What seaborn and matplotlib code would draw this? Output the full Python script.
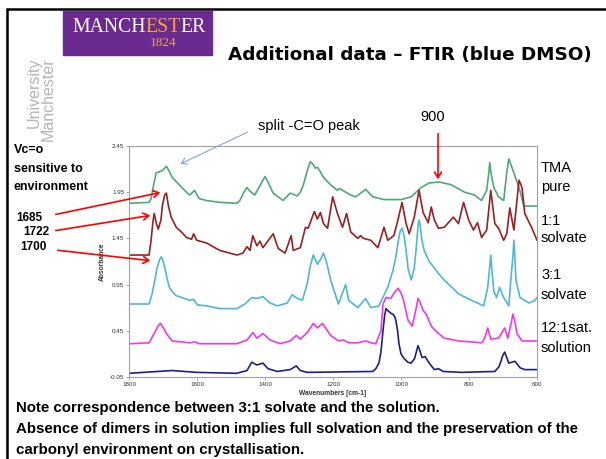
import numpy as np
import pandas as pd
import matplotlib
matplotlib.use("Agg")
import matplotlib.pyplot as plt
import seaborn as sns

# FTIR spectra (wavenumber in cm-1, absorbance)
wn_tma = [1800, 1741, 1735, 1732, 1726, 1720, 1711, 1700, 1690, 1682, 1673, 1652, 1631, 1622, 1615,
          1607, 1600, 1593, 1572, 1533, 1483, 1474, 1462, 1453, 1444, 1430, 1412, 1400, 1390, 1376,
          1347, 1326, 1305, 1296, 1287, 1276, 1267, 1258, 1252, 1246, 1237, 1228, 1207, 1187, 1181,
          1148, 1133, 1104, 1083, 1050, 1000, 970, 941, 917, 887, 852, 813, 784, 763,
          748, 742, 739, 735, 727, 713, 698, 689, 683, 677, 668, 653, 644, 639, 600]
ab_tma = [1.83, 1.84, 1.88, 1.94, 2.06, 2.16, 2.17, 2.19, 2.23, 2.18, 2.11, 2.03, 1.95, 1.92, 1.94,
          1.97, 1.92, 1.88, 1.86, 1.84, 1.83, 1.86, 1.95, 2.00, 1.96, 1.92, 2.04, 2.12, 2.05, 1.94,
          1.86, 1.94, 1.91, 1.95, 2.03, 2.18, 2.28, 2.25, 2.21, 2.22, 2.17, 2.11, 2.03, 1.97, 1.99,
          1.92, 1.90, 1.98, 1.90, 1.87, 1.87, 1.90, 2.00, 2.05, 2.06, 2.03, 1.95, 1.92, 1.86,
          1.97, 2.15, 2.27, 2.15, 2.00, 1.90, 1.86, 2.16, 2.31, 2.25, 2.16, 2.00, 1.88, 1.80, 1.80]

wn_11 = [1800, 1741, 1735, 1730, 1726, 1720, 1714, 1706, 1702, 1695, 1690, 1684, 1676, 1661, 1646,
         1631, 1616, 1610, 1601, 1572, 1533, 1483, 1465, 1453, 1444, 1436, 1424, 1415, 1406, 1376,
         1361, 1341, 1323, 1317, 1296, 1281, 1273, 1255, 1246, 1237, 1228, 1216, 1201, 1187, 1172,
         1160, 1148, 1127, 1119, 1110, 1089, 1068, 1050, 1039, 1021, 1009, 997, 985, 976, 961,
         947, 935, 920, 911, 902, 890, 873, 846, 831, 816, 801, 787, 775, 763, 748,
         736, 724, 713, 698, 689, 680, 668, 659, 653, 644, 636, 615, 600]
ab_11 = [1.27, 1.27, 1.43, 1.62, 1.72, 1.62, 1.55, 1.65, 1.80, 1.92, 1.94, 1.80, 1.68, 1.57, 1.52,
         1.46, 1.44, 1.50, 1.43, 1.40, 1.32, 1.27, 1.29, 1.36, 1.32, 1.48, 1.37, 1.42, 1.35, 1.50,
         1.34, 1.29, 1.48, 1.32, 1.35, 1.57, 1.56, 1.74, 1.66, 1.73, 1.61, 1.56, 1.90, 1.72, 1.57,
         1.72, 1.52, 1.45, 1.48, 1.45, 1.43, 1.35, 1.57, 1.43, 1.48, 1.65, 1.84, 1.61, 1.50, 1.68,
         1.97, 1.73, 1.62, 1.79, 1.65, 1.56, 1.57, 1.68, 1.61, 1.84, 1.65, 1.54, 1.62, 1.46, 1.54,
         1.97, 1.61, 1.56, 1.43, 1.50, 1.78, 1.54, 1.86, 2.08, 2.00, 1.72, 1.56, 1.43]

wn_31 = [1800, 1741, 1732, 1725, 1718, 1710, 1705, 1700, 1694, 1690, 1685, 1681, 1672, 1661, 1622,
         1610, 1599, 1572, 1533, 1483, 1459, 1439, 1424, 1406, 1385, 1364, 1335, 1320, 1305, 1290,
         1276, 1267, 1258, 1246, 1237, 1228, 1218, 1207, 1184, 1163, 1154, 1127, 1104, 1089, 1065,
         1039, 1024, 1015, 1009, 1003, 997, 991, 985, 979, 970, 961, 955, 950, 947, 944,
         938, 932, 917, 902, 890, 873, 850, 831, 793, 757, 745, 739, 736, 733, 727,
         719, 710, 698, 683, 677, 671, 668, 665, 662, 650, 624, 606, 600]
ab_31 = [0.74, 0.74, 0.85, 0.98, 1.12, 1.22, 1.25, 1.21, 1.12, 1.05, 0.97, 0.92, 0.87, 0.83, 0.78,
         0.79, 0.73, 0.72, 0.69, 0.69, 0.74, 0.81, 0.80, 0.82, 0.75, 0.72, 0.75, 0.84, 0.80, 0.78,
         0.96, 1.15, 1.27, 1.17, 1.22, 1.29, 1.18, 1.00, 0.74, 0.95, 0.78, 0.70, 0.80, 0.70, 0.72,
         0.92, 1.10, 1.25, 1.40, 1.52, 1.56, 1.48, 1.32, 1.12, 1.00, 1.13, 1.35, 1.58, 1.65, 1.60,
         1.42, 1.32, 1.20, 1.13, 1.07, 1.00, 0.92, 0.85, 0.78, 0.72, 0.92, 1.15, 1.27, 1.12, 0.88,
         0.81, 0.92, 0.81, 0.72, 1.00, 1.25, 1.43, 1.25, 1.00, 0.81, 0.75, 0.78, 0.81]

wn_121 = [1800, 1741, 1726, 1715, 1708, 1700, 1690, 1673, 1622, 1607, 1593, 1483, 1453, 1436, 1424,
          1406, 1385, 1356, 1326, 1308, 1296, 1276, 1258, 1246, 1231, 1207, 1184, 1169, 1154, 1127,
          1104, 1089, 1074, 1059, 1053, 1044, 1030, 1020, 1009, 1000, 994, 979, 967, 955, 950,
          944, 935, 926, 911, 896, 873, 831, 763, 754, 745, 736, 713, 695, 686, 675,
          671, 665, 659, 644, 600]
ab_121 = [0.31, 0.32, 0.42, 0.50, 0.53, 0.49, 0.42, 0.34, 0.32, 0.33, 0.31, 0.31, 0.35, 0.43, 0.37,
          0.42, 0.35, 0.31, 0.34, 0.40, 0.36, 0.43, 0.53, 0.48, 0.53, 0.40, 0.34, 0.35, 0.32, 0.32,
          0.34, 0.32, 0.31, 0.45, 0.74, 0.81, 0.80, 0.86, 0.91, 0.86, 0.80, 0.56, 0.50, 0.70, 0.80,
          0.76, 0.67, 0.63, 0.50, 0.44, 0.37, 0.34, 0.32, 0.37, 0.48, 0.36, 0.37, 0.48, 0.37, 0.55,
          0.63, 0.55, 0.42, 0.34, 0.34]

wn_sol = [1800, 1673, 1601, 1483, 1453, 1439, 1424, 1406, 1391, 1364, 1326, 1308, 1296, 1276, 1083,
          1074, 1065, 1059, 1053, 1048, 1044, 1039, 1030, 1024, 1018, 1015, 1010, 1006, 1000, 991,
          980, 970, 960, 955, 950, 945, 938, 929, 917, 902, 890, 876, 822, 724, 712,
          707, 701, 695, 689, 683, 665, 650, 636, 600]
ab_sol = [-0.01, 0.02, 0.00, -0.01, 0.02, 0.11, 0.08, 0.10, 0.04, 0.01, 0.03, 0.07, 0.02, 0.00, 0.01,
          0.04, 0.10, 0.22, 0.45, 0.62, 0.69, 0.67, 0.64, 0.63, 0.60, 0.56, 0.45, 0.31, 0.20, 0.15,
          0.11, 0.10, 0.15, 0.22, 0.29, 0.24, 0.16, 0.17, 0.10, 0.03, 0.04, 0.01, 0.00, 0.01, 0.06,
          0.11, 0.18, 0.22, 0.16, 0.10, 0.12, 0.05, 0.03, 0.03]

series = [
    ("TMA pure", wn_tma, ab_tma, "#4fa878"),
    ("1:1 solvate", wn_11, ab_11, "#9a1f22"),
    ("3:1 solvate", wn_31, ab_31, "#4db8d6"),
    ("12:1 sat.", wn_121, ab_121, "#f238ee"),
    ("solution", wn_sol, ab_sol, "#1e1e8c"),
]

y_ticks = [-0.05, 0.45, 0.95, 1.45, 1.95, 2.45]
x_ticks = [1800, 1600, 1400, 1200, 1000, 800, 600]

W, H = 606, 459

def fx(x):
    return x / W

def fy(y):
    return 1 - y / H

sns.set_theme(style="white")
plt.rcParams["font.family"] = ["Liberation Sans", "DejaVu Sans"]
plt.rcParams["text.color"] = "black"

fig = plt.figure(figsize=(W / 100, H / 100), dpi=100)
fig.patch.set_facecolor("white")

# slide frame (top and left black rule)
fig.add_artist(plt.Line2D([fx(7), 1], [fy(9), fy(9)], color="black", lw=1.8))
fig.add_artist(plt.Line2D([fx(7), fx(7)], [fy(9), 0], color="black", lw=1.8))

# Manchester logo
fig.add_artist(plt.Rectangle((fx(63), fy(55)), fx(212) - fx(63), fy(11) - fy(55),
                             color="#6a2a8f", transform=fig.transFigure, zorder=2))
fig.canvas.draw()
renderer = fig.canvas.get_renderer()
x_cur = fx(72)
for part, col in [("MANCH", "white"), ("EST", "#f0a832"), ("ER", "white")]:
    t = fig.text(x_cur, fy(32.5), part, color=col, family="Liberation Serif", fontsize=14.2,
                 ha="left", va="baseline", zorder=3)
    bb = t.get_window_extent(renderer=renderer)
    x_cur += bb.width / W
fig.text(fx(163), fy(46.5), "1824", color="#f0a832", family="Liberation Serif", fontsize=9.5,
         ha="center", va="baseline", zorder=3)

# vertical university wordmark
fig.text(fx(41), fy(57), "University\nManchester", rotation=90, color="#b4b4b4",
         fontsize=11.5, ha="center", va="top", multialignment="right", linespacing=0.95,
         family="Liberation Sans")

# title
fig.text(fx(228), fy(55), "Additional data \u2013 FTIR (blue DMSO)", fontsize=13.2,
         fontweight="bold", ha="left", va="center", family="DejaVu Sans")

# spectra
ax = fig.add_axes([fx(129), fy(377), fx(537) - fx(129), fy(146) - fy(377)])
for name, wn, ab, col in series:
    df = pd.DataFrame({"wn": wn, "ab": ab})
    sns.lineplot(data=df, x="wn", y="ab", color=col, lw=1.2, ax=ax, estimator=None,
                 sort=False)

ax.set_xlim(1800, 600)
ax.set_ylim(-0.05, 2.45)
ax.set_xticks(x_ticks)
ax.set_xticklabels([str(v) for v in x_ticks])
ax.set_yticks(y_ticks)
ax.set_yticklabels([f"{v:.2f}" for v in y_ticks])
ax.tick_params(axis="both", labelsize=4.5, length=2, width=0.5, color="#888888",
               labelcolor="#333333", pad=1.5, direction="out", left=True, bottom=True)
for s in ax.spines.values():
    s.set_color("#a0a0a0")
    s.set_linewidth(0.8)
ax.set_xlabel("Wavenumbers [cm-1]", fontsize=4.8, fontweight="bold", labelpad=2, color="#333333")
ax.set_ylabel("Absorbance", fontsize=4.8, fontweight="bold", labelpad=3, color="#333333")

# right-hand labels
for txt, yc in [("TMA", 168), ("pure", 187), ("1:1", 221), ("solvate", 238),
                ("3:1", 275), ("solvate", 295), ("12:1sat.", 328), ("solution", 348)]:
    fig.text(fx(541), fy(yc), txt, fontsize=10.5, ha="left", va="center")

# annotations
fig.text(fx(258), fy(126), "split -C=O peak", fontsize=10.5, ha="left", va="center")
fig.text(fx(433), fy(117), "900", fontsize=10.5, ha="center", va="center")

arrow_specs = [
    ((250, 131), (178, 165), "#6f9fd8", 0.7),
    ((438, 131), (438, 182), "red", 1.2),
    ((53, 215), (163, 192), "red", 1.2),
    ((53, 231), (153, 215), "red", 1.2),
    ((55, 250), (153, 261), "red", 1.2),
]
for (x0, y0), (x1, y1), col, lw in arrow_specs:
    fig.add_artist(matplotlib.patches.FancyArrowPatch(
        (fx(x0), fy(y0)), (fx(x1), fy(y1)), transform=fig.transFigure,
        arrowstyle="->,head_length=4,head_width=2.5", color=col, lw=lw, zorder=5))

for txt, x, yc in [("Vc=o", 14, 150), ("sensitive to", 14, 169), ("environment", 14, 187)]:
    fig.text(fx(x), fy(yc), txt, fontsize=9, fontweight="bold", ha="left", va="center")
for txt, x, yc in [("1685", 16, 218), ("1722", 23, 232), ("1700", 20, 247)]:
    fig.text(fx(x), fy(yc), txt, fontsize=8.5, fontweight="bold", ha="left", va="center")

# bottom notes
notes = [
    "Note correspondence between 3:1 solvate and the solution.",
    "Absence of dimers in solution implies full solvation and the preservation of the",
    "carbonyl environment on crystallisation.",
]
for txt, yc in zip(notes, [408, 429, 450]):
    fig.text(fx(16), fy(yc), txt, fontsize=10.8, fontweight="bold", ha="left", va="center")

fig.savefig("out.png", dpi=100)
